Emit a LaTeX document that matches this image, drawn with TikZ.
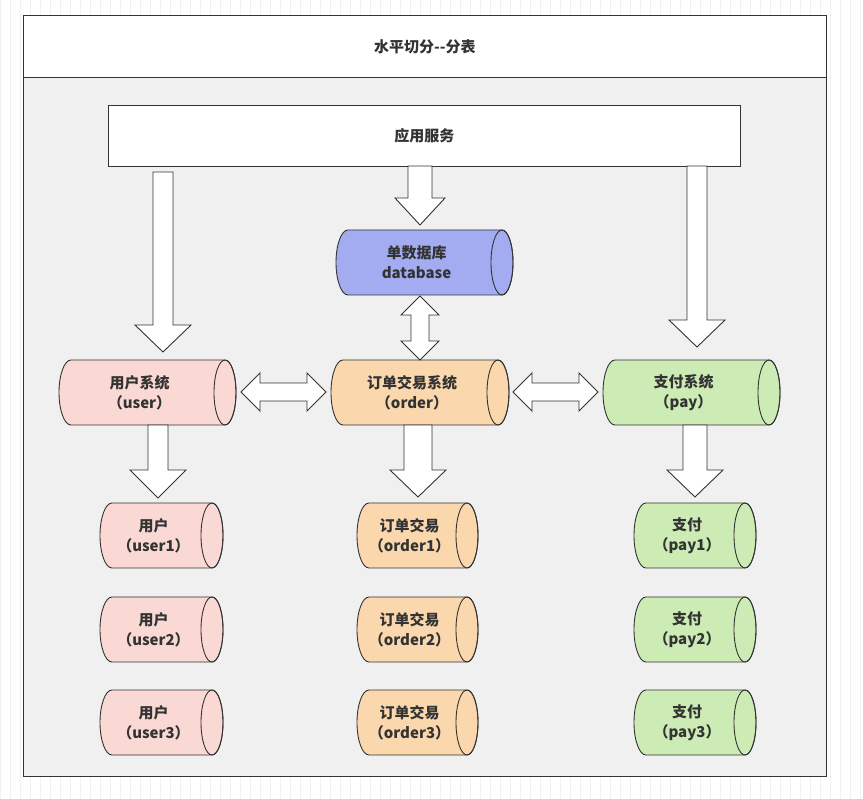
\documentclass[tikz,border=0pt]{standalone}
\usepackage{fontspec}
\setmainfont{Noto Sans CJK SC}
\begin{document}
\begin{tikzpicture}[x=1pt,y=-1pt,
  txt/.style={font=\fontsize{15}{20}\selectfont\bfseries, text=black!80, align=center},
  ln/.style={draw=black!80, line width=0.9pt},
  arr/.style={ln, fill=white, line join=miter}]
\definecolor{usr}{HTML}{FAD9D5}
\definecolor{ord}{HTML}{FAD7AC}
\definecolor{pay}{HTML}{CDEBB5}
\definecolor{dbc}{HTML}{A3ACF0}
\useasboundingbox (0,0) rectangle (863,799);
\fill[white] (0,0) rectangle (863,799);
\draw[black!6, line width=0.5pt, step=10] (0,0) grid (863,799);
% frame
\node[ln, fill=white, minimum width=803, minimum height=62, inner sep=0, anchor=north west, txt] (title) at (23,15) {水平切分{-}{-}分表};
\node[ln, fill=black!6, minimum width=803, minimum height=699, inner sep=0, anchor=north west] (body) at (23,77) {};
\node[ln, fill=white, minimum width=632, minimum height=61, inner sep=0, anchor=north west, txt] (app) at (108,105) {应用服务};
% cylinder macro: x1,y1,x2,y2,color,name,text
\newcommand\hcyl[7]{%
  \pgfmathsetmacro\hh{(#4-#2)/2}%
  \filldraw[ln, fill=#5] (#1+12,#2) -- (#3-11,#2) arc (-90:90:11 and \hh) -- (#1+12,#4) arc (90:270:12 and \hh) -- cycle;
  \draw[ln] (#3-11,#2+\hh) ellipse (11 and \hh);
  \node[txt] (#6) at ({(#1+#3)/2-8},#2+\hh) {#7};}
\hcyl{336}{230}{513}{295}{dbc}{db}{单数据库\\database}
\hcyl{59}{360}{236}{425}{usr}{usys}{用户系统\\（user）}
\hcyl{331}{360}{509}{425}{ord}{osys}{订单交易系统\\（order）}
\hcyl{603}{360}{780}{425}{pay}{psys}{支付系统\\（pay）}
\foreach \y/\i in {503/1,597/2,690/3}{
  \hcyl{100}{\y}{223}{\y+65}{usr}{u\i}{用户\\（user\i）}
  \hcyl{357}{\y}{478}{\y+65}{ord}{o\i}{订单交易\\（order\i）}
  \hcyl{634}{\y}{756}{\y+65}{pay}{p\i}{支付\\（pay\i）}
}
% down block arrows: xc, shaft half, head half, y0, yhead, ytip
\newcommand\darr[6]{\draw[arr] (#1-#2,#4) -- (#1+#2,#4) -- (#1+#2,#5) -- (#1+#3,#5) -- (#1,#6) -- (#1-#3,#5) -- (#1-#2,#5) -- cycle;}
\darr{163}{10}{28}{172}{325}{352}
\darr{420}{12}{25}{166}{198}{225}
\darr{697}{10}{28}{166}{320}{347}
\darr{158}{10}{28}{425}{470}{498}
\darr{418}{14}{28}{425}{470}{497}
\darr{695}{12}{28}{425}{470}{497}
% vertical double arrow
\draw[arr] (420,296) -- (439,315) -- (429,315) -- (429,341) -- (439,341) -- (420,360) -- (401,341) -- (411,341) -- (411,315) -- (401,315) -- cycle;
% horizontal double arrows
\newcommand\harr[3]{\draw[arr] (#1,#3) -- (#1+19,#3-19) -- (#1+19,#3-9) -- (#2-19,#3-9) -- (#2-19,#3-19) -- (#2,#3) -- (#2-19,#3+19) -- (#2-19,#3+9) -- (#1+19,#3+9) -- (#1+19,#3+19) -- cycle;}
\harr{241}{326}{392}
\harr{513}{598}{392}
\end{tikzpicture}
\end{document}
